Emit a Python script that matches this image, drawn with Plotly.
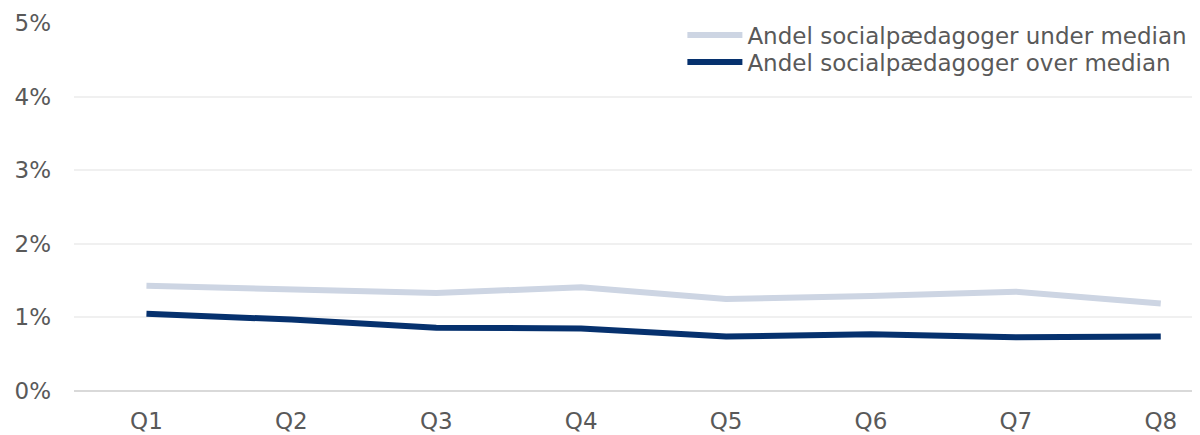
import plotly.graph_objects as go

kvartaler = ["Q1", "Q2", "Q3", "Q4", "Q5", "Q6", "Q7", "Q8"]
under_median = [1.43, 1.39, 1.33, 1.41, 1.25, 1.29, 1.35, 1.19]
over_median = [1.05, 0.97, 0.86, 0.85, 0.74, 0.77, 0.73, 0.74]
y_ticks = [0, 1, 2, 3, 4, 5]
y_labels = ["0%", "1%", "2%", "3%", "4%", "5%"]

font = "Verdana, DejaVu Sans, sans-serif"

fig = go.Figure()
fig.add_trace(go.Scatter(
    name="Andel socialpædagoger under median", x=kvartaler, y=under_median,
    mode="lines", line=dict(color="#CDD5E3", width=6), legend="legend",
))
fig.add_trace(go.Scatter(
    name="Andel socialpædagoger over median", x=kvartaler, y=over_median,
    mode="lines", line=dict(color="#06316E", width=6), legend="legend2",
))

legend_style = dict(
    xanchor="left", yanchor="middle", bgcolor="rgba(255,255,255,0)",
    itemwidth=55, font=dict(family=font, size=23, color="#595959"),
)

# the page body has an 8px margin, so the margins below are shifted to match
fig.update_layout(
    width=1200, height=435,
    margin=dict(l=66, r=0, t=15, b=52),
    paper_bgcolor="white", plot_bgcolor="white",
    font=dict(family=font, size=23, color="#595959"),
    showlegend=True,
    legend=dict(x=0.5365, y=0.967, **legend_style),
    legend2=dict(x=0.5365, y=0.894, **legend_style),
    xaxis=dict(
        range=[-0.5, 7.326], showgrid=False, showline=False, zeroline=False,
        ticks="", ticklabelstandoff=14, automargin=False,
    ),
    yaxis=dict(
        range=[0, 5], tickvals=y_ticks, ticktext=y_labels,
        showgrid=True, gridcolor="#F0F0F0", gridwidth=2,
        zeroline=True, zerolinecolor="#D9D9D9", zerolinewidth=2,
        showline=False, ticks="", ticklabelstandoff=22, automargin=False,
    ),
)

fig.write_html("out.html")
